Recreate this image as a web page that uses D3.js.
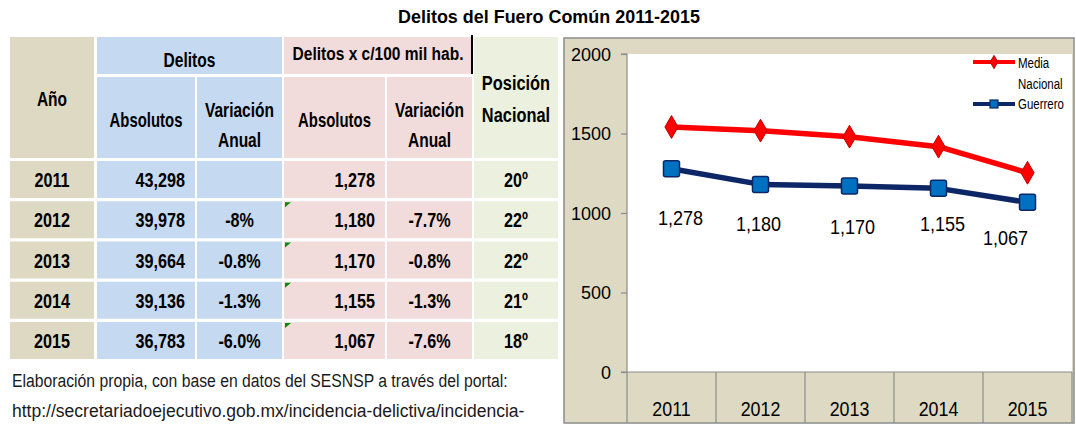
<!DOCTYPE html>
<html>
<head>
<meta charset="utf-8">
<script src="https://cdn.jsdelivr.net/npm/d3@7"></script>
<style>
  body { margin: 0; background: #fff; }
  svg { display: block; }
  text { font-family: "Liberation Sans", Arial, sans-serif; fill: #000; }
</style>
</head>
<body>
<svg id="fig" width="1076" height="425"></svg>
<script>
// data
var years = ["2011", "2012", "2013", "2014", "2015"];
var delitos_abs = ["43,298", "39,978", "39,664", "39,136", "36,783"];
var delitos_var = ["", "-8%", "-0.8%", "-1.3%", "-6.0%"];
var tasa_abs = ["1,278", "1,180", "1,170", "1,155", "1,067"];
var tasa_var = ["", "-7.7%", "-0.8%", "-1.3%", "-7.6%"];
var posicion = ["20º", "22º", "22º", "21º", "18º"];

var media_nacional = [1541, 1518, 1480, 1417, 1253];
var guerrero = [1278, 1180, 1170, 1155, 1067];
var y_ticks = [0, 500, 1000, 1500, 2000];
var series_names = ["Media", "Nacional", "Guerrero"];

var title_text = "Delitos del Fuero Común 2011-2015";
var note_lines = ["Elaboración propia, con base en datos del SESNSP a través del portal:",
                  "http://secretariadoejecutivo.gob.mx/incidencia-delictiva/incidencia-"];

var svg = d3.select("#fig");

//colours
var tan = "#ddd9c3", blue = "#c5d9f1", pink = "#f2dcdb", green = "#ebf1de";

//no narrow font installed - squeeze arial horizontally to get the tall calibri look
function squeeze(sel, sx) {
    sel.each(function() {
        var t = d3.select(this);
        var x = +t.attr("x"), y = +t.attr("y");
        t.attr("transform", "translate(" + x + "," + y + ") scale(" + sx + ",1)")
         .attr("x", 0).attr("y", 0);
    });
}
//squeeze to a wanted width
function fit_width(sel, w) {
    sel.each(function() {
        squeeze(d3.select(this), w / this.getComputedTextLength());
    });
}

//title
svg.append("text")
    .attr("x", 549).attr("y", 23)
    .attr("text-anchor", "middle")
    .attr("font-size", 19).attr("font-weight", "bold")
    .text(title_text)
    .call(fit_width, 302);

//---------------- table ----------------
var cols = [
    {x0: 10, x1: 94, fill: tan, align: "middle", vals: years},
    {x0: 97, x1: 195, fill: blue, align: "end", vals: delitos_abs},
    {x0: 197, x1: 282, fill: blue, align: "middle", vals: delitos_var},
    {x0: 284, x1: 385, fill: pink, align: "end", vals: tasa_abs},
    {x0: 387, x1: 472, fill: pink, align: "middle", vals: tasa_var},
    {x0: 474, x1: 558, fill: green, align: "middle", vals: posicion}
];
var row_y = d3.scaleBand().domain(years).range([161, 359]).paddingInner(0.08);

var table = svg.append("g");

//header cells
var head_cells = [
    {x0: 10, x1: 94, y0: 37, y1: 158, fill: tan, lines: ["Año"], ty: [105.5], size: 21, sx: 0.74},
    {x0: 97, x1: 282, y0: 37, y1: 74, fill: blue, lines: ["Delitos"], ty: [67], size: 21, sx: 0.74},
    {x0: 97, x1: 195, y0: 77, y1: 158, fill: blue, lines: ["Absolutos"], ty: [126.5], size: 21, sx: 0.71},
    {x0: 197, x1: 282, y0: 77, y1: 158, fill: blue, lines: ["Variación", "Anual"], ty: [116.5, 147], size: 21, sx: 0.74},
    {x0: 284, x1: 472, y0: 37, y1: 74, fill: pink, lines: ["Delitos x c/100 mil hab."], ty: [60], size: 18.5, sx: 0.84},
    {x0: 284, x1: 385, y0: 77, y1: 158, fill: pink, lines: ["Absolutos"], ty: [126.5], size: 21, sx: 0.71},
    {x0: 387, x1: 472, y0: 77, y1: 158, fill: pink, lines: ["Variación", "Anual"], ty: [116.5, 147], size: 21, sx: 0.74},
    {x0: 474, x1: 558, y0: 37, y1: 158, fill: green, lines: ["Posición", "Nacional"], ty: [90, 121.5], size: 21, sx: 0.78}
];

head_cells.forEach(function(c) {
    table.append("rect")
        .attr("x", c.x0).attr("y", c.y0)
        .attr("width", c.x1 - c.x0).attr("height", c.y1 - c.y0)
        .attr("fill", c.fill);
    c.lines.forEach(function(l, i) {
        table.append("text")
            .attr("x", (c.x0 + c.x1) / 2).attr("y", c.ty[i])
            .attr("text-anchor", "middle")
            .attr("font-size", c.size).attr("font-weight", "bold")
            .text(l)
            .call(squeeze, c.sx);
    });
});

//black divider in header
table.append("line")
    .attr("x1", 472).attr("x2", 472).attr("y1", 35).attr("y2", 74)
    .attr("stroke", "#000").attr("stroke-width", 2);

//body cells
cols.forEach(function(c) {
    var g = table.append("g");
    g.selectAll("rect").data(years).enter().append("rect")
        .attr("x", c.x0).attr("y", d => row_y(d))
        .attr("width", c.x1 - c.x0).attr("height", row_y.bandwidth())
        .attr("fill", c.fill);
    g.selectAll("text").data(c.vals).enter().append("text")
        .attr("x", c.align === "end" ? c.x1 - 10 : (c.x0 + c.x1) / 2)
        .attr("y", (d, i) => row_y(years[i]) + row_y.bandwidth() / 2 + 7.5)
        .attr("text-anchor", c.align)
        .attr("font-size", 21).attr("font-weight", "bold")
        .text(d => d)
        .call(squeeze, 0.77);
});

//green excel flags on the rate cells
table.selectAll(".flag").data(years.slice(1)).enter().append("path")
    .attr("class", "flag")
    .attr("d", d => "M285," + (row_y(d) + 1) + "h6l-6,5z")
    .attr("fill", "#0a8a0a");

//note
svg.selectAll(".note").data(note_lines).enter().append("text")
    .attr("class", "note")
    .attr("x", 12).attr("y", (d, i) => 387 + i * 30)
    .attr("font-size", 19)
    .style("fill", "#1a1a1a")
    .text(d => d)
    .each(function(d, i) { fit_width(d3.select(this), i === 0 ? 496 : 513); });

//---------------- line chart ----------------
var panel = {x0: 564, y0: 38, x1: 1074, y1: 423};
var plot = {left: 627, right: 1072, top: 54, bottom: 372};

svg.append("rect")
    .attr("x", panel.x0).attr("y", panel.y0)
    .attr("width", panel.x1 - panel.x0).attr("height", panel.y1 - panel.y0)
    .attr("fill", tan).attr("stroke", "#8c8c8c").attr("stroke-width", 1.5);

svg.append("rect")
    .attr("x", plot.left).attr("y", plot.top)
    .attr("width", plot.right - plot.left).attr("height", plot.bottom - plot.top)
    .attr("fill", "#fff");

var x_scale = d3.scaleBand().domain(years).range([plot.left, plot.right]);
var y_scale = d3.scaleLinear().domain([0, 2000]).range([plot.bottom, plot.top]);

var chart = svg.append("g");

//y axis
var y_axis = d3.axisLeft(y_scale).tickValues(y_ticks).tickFormat(d3.format("d")).tickSize(6).tickPadding(10);
var yg = chart.append("g").attr("transform", "translate(" + plot.left + ",0)").call(y_axis);
yg.attr("font-family", null);
yg.select(".domain").attr("stroke", "#8c8c8c").attr("stroke-width", 1.2).attr("d", "M-6," + plot.top + "H0V" + plot.bottom);
yg.selectAll(".tick line").attr("stroke", "#8c8c8c").attr("stroke-width", 1.2);
yg.selectAll(".tick text").attr("font-size", 18).attr("dy", "0.36em");

//x axis line and category dividers
chart.append("line")
    .attr("x1", plot.left - 6).attr("x2", plot.right)
    .attr("y1", plot.bottom).attr("y2", plot.bottom)
    .attr("stroke", "#8c8c8c").attr("stroke-width", 1.2);
var bounds = years.map(d => x_scale(d)).concat([plot.right]);
chart.selectAll(".divider").data(bounds).enter().append("line")
    .attr("class", "divider")
    .attr("x1", d => d).attr("x2", d => d)
    .attr("y1", plot.bottom).attr("y2", panel.y1)
    .attr("stroke", "#8c8c8c").attr("stroke-width", 1.2);
chart.selectAll(".xlab").data(years).enter().append("text")
    .attr("class", "xlab")
    .attr("x", d => x_scale(d) + x_scale.bandwidth() / 2)
    .attr("y", 416)
    .attr("text-anchor", "middle")
    .attr("font-size", 20.5)
    .text(d => d)
    .call(squeeze, 0.87);

//lines
var line = d3.line()
    .x((d, i) => x_scale(years[i]) + x_scale.bandwidth() / 2)
    .y(d => y_scale(d));

chart.append("path").datum(media_nacional)
    .attr("d", line).attr("fill", "none")
    .attr("stroke", "#ff0000").attr("stroke-width", 5.5).attr("stroke-linejoin", "round");
chart.append("path").datum(guerrero)
    .attr("d", line).attr("fill", "none")
    .attr("stroke", "#0d2766").attr("stroke-width", 5.5).attr("stroke-linejoin", "round");

//markers
var diamond = d3.symbol().type(d3.symbolDiamond).size(150);
chart.selectAll(".red_mark").data(media_nacional).enter().append("path")
    .attr("class", "red_mark")
    .attr("d", diamond)
    .attr("transform", (d, i) => "translate(" + (x_scale(years[i]) + x_scale.bandwidth() / 2) + "," + y_scale(d) + ")")
    .attr("fill", "#ff0000").attr("stroke", "#c00000").attr("stroke-width", 1);

chart.selectAll(".blue_mark").data(guerrero).enter().append("rect")
    .attr("class", "blue_mark")
    .attr("x", (d, i) => x_scale(years[i]) + x_scale.bandwidth() / 2 - 8)
    .attr("y", d => y_scale(d) - 8)
    .attr("width", 16).attr("height", 16).attr("rx", 2)
    .attr("fill", "#0070c0").attr("stroke", "#0d2766").attr("stroke-width", 1.5);

//data labels (excel placed them by hand, small nudges)
var label_nudge = [[9, 49], [-2, 39], [3, 41], [4, 35], [-22, 35]];
chart.selectAll(".dlab").data(guerrero).enter().append("text")
    .attr("class", "dlab")
    .attr("x", (d, i) => x_scale(years[i]) + x_scale.bandwidth() / 2 + label_nudge[i][0])
    .attr("y", (d, i) => y_scale(d) + label_nudge[i][1] + 7.5)
    .attr("text-anchor", "middle")
    .attr("font-size", 21)
    .text((d, i) => tasa_abs[i])
    .call(squeeze, 0.86);

//legend
var legend = chart.append("g");
var leg_y = [62, 104];
var leg_col = ["#ff0000", "#0d2766"];
leg_y.forEach(function(ly, i) {
    legend.append("line")
        .attr("x1", 973).attr("x2", 1015).attr("y1", ly).attr("y2", ly)
        .attr("stroke", leg_col[i]).attr("stroke-width", 4);
});
legend.append("path")
    .attr("d", d3.symbol().type(d3.symbolDiamond).size(50))
    .attr("transform", "translate(994," + leg_y[0] + ")")
    .attr("fill", "#ff0000").attr("stroke", "#c00000");
legend.append("rect")
    .attr("x", 990).attr("y", leg_y[1] - 4).attr("width", 8).attr("height", 8)
    .attr("fill", "#0070c0").attr("stroke", "#0d2766").attr("stroke-width", 1.2);
var leg_text_y = [leg_y[0] + 5.5, leg_y[0] + 26.5, leg_y[1] + 5];
legend.selectAll(".ltxt").data(series_names).enter().append("text")
    .attr("class", "ltxt")
    .attr("x", 1018)
    .attr("y", (d, i) => leg_text_y[i])
    .attr("font-size", 14)
    .text(d => d)
    .call(squeeze, 0.82);
</script>
</body>
</html>
